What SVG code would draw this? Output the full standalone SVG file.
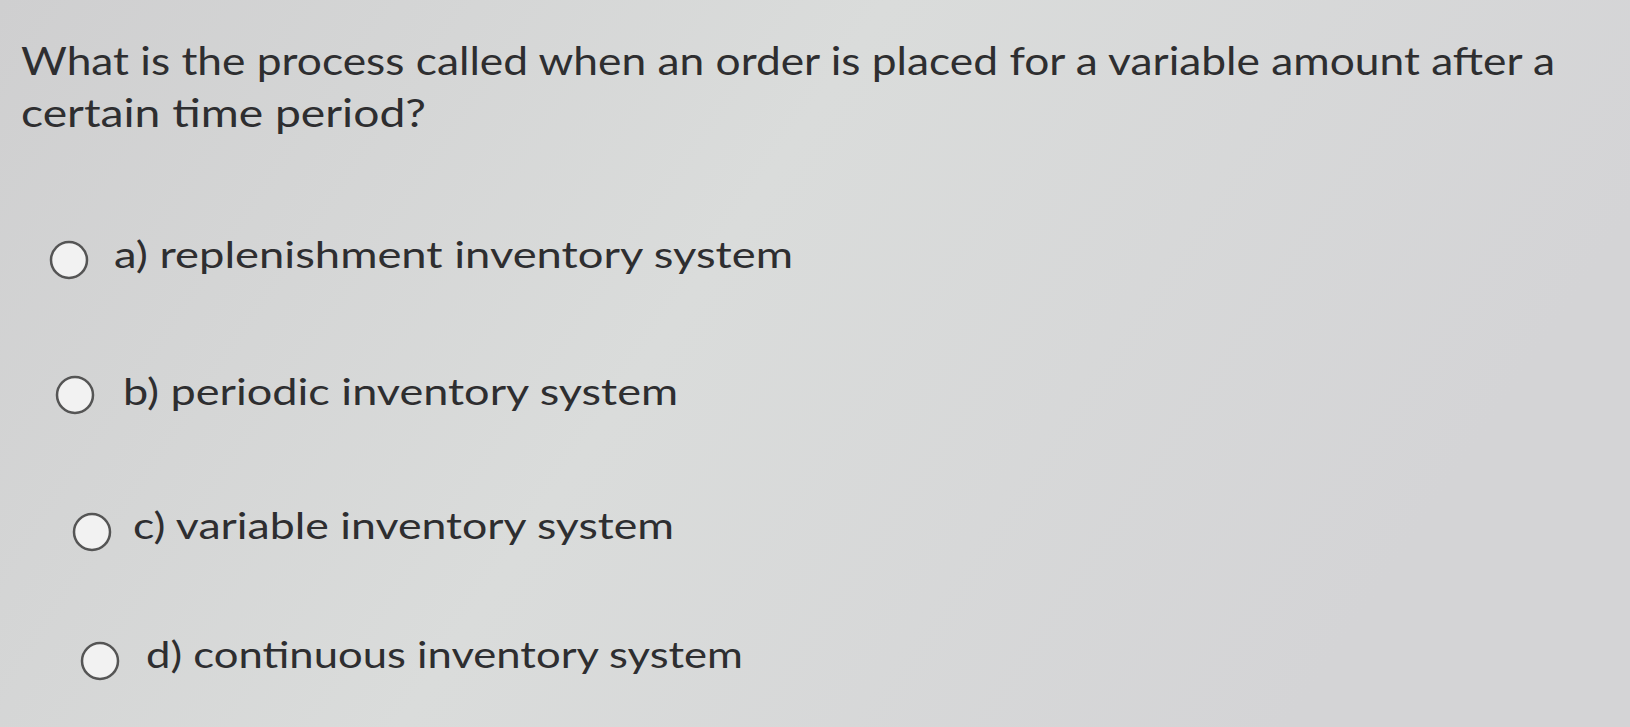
<svg xmlns="http://www.w3.org/2000/svg" width="1630" height="727" viewBox="0 0 1630 727">
<defs>
<linearGradient id="bg" x1="0" y1="0" x2="1" y2="0.3">
<stop offset="0" stop-color="#cfcfd0"/>
<stop offset="0.5" stop-color="#dadcdb"/>
<stop offset="1" stop-color="#d4d4d6"/>
</linearGradient>
<style>
.t{font-family:Lato,"Open Sans",sans-serif;fill:#2e2e30;font-size:38px}
.o{font-family:Lato,"Open Sans",sans-serif;fill:#2e2e30;font-size:37px}
.c{fill:#f2f2f2;stroke:#555;stroke-width:2.5}
</style>
</defs>
<rect width="1630" height="727" fill="url(#bg)"/>
<text class="t" x="21" y="75" textLength="1534" lengthAdjust="spacingAndGlyphs">What is the process called when an order is placed for a variable amount after a</text>
<text class="t" x="21" y="127" textLength="405" lengthAdjust="spacingAndGlyphs">certain time period?</text>
<g id="optA"><circle class="c" cx="69" cy="260" r="18"/><text class="o" x="114" y="268" textLength="679" lengthAdjust="spacingAndGlyphs">a) replenishment inventory system</text></g>
<g id="optB"><circle class="c" cx="75" cy="395" r="18"/><text class="o" x="123" y="405" textLength="555" lengthAdjust="spacingAndGlyphs">b) periodic inventory system</text></g>
<g id="optC"><circle class="c" cx="92" cy="532" r="18"/><text class="o" x="133" y="539" textLength="541" lengthAdjust="spacingAndGlyphs">c) variable inventory system</text></g>
<g id="optD"><circle class="c" cx="100" cy="661" r="18"/><text class="o" x="146" y="668" textLength="597" lengthAdjust="spacingAndGlyphs">d) continuous inventory system</text></g>
</svg>
